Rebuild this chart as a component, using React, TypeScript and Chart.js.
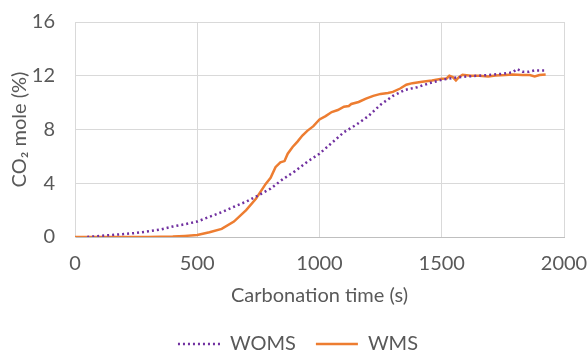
import React, { useEffect, useRef } from "react";
import { Chart, registerables } from "chart.js";

Chart.register(...registerables);

const seriesNames = ["WOMS", "WMS"];
const xTicks = [0, 500, 1000, 1500, 2000];
const yTicks = [0, 4, 8, 12, 16];
const xTitle = "Carbonation time (s)";
const yTitle = "CO\u2082 mole (%)";

const womsTime = [50, 100, 150, 200, 250, 300, 350, 400, 450, 500, 550, 600, 650, 700, 750, 800, 850, 900, 950, 1000, 1050, 1100, 1150, 1200, 1250, 1300, 1350, 1400, 1450, 1500, 1550, 1600, 1650, 1700, 1750, 1790, 1808, 1830, 1857, 1880, 1900, 1925];
const womsCO2 = [0, 0.08, 0.15, 0.22, 0.3, 0.42, 0.56, 0.78, 0.95, 1.15, 1.5, 1.85, 2.25, 2.63, 3.1, 3.6, 4.3, 4.9, 5.6, 6.2, 7.0, 7.8, 8.35, 9.0, 9.85, 10.5, 10.95, 11.15, 11.45, 11.7, 11.85, 11.95, 12.0, 12.07, 12.15, 12.25, 12.5, 12.3, 12.3, 12.4, 12.4, 12.4];

const wmsTime = [0, 100, 200, 300, 400, 450, 500, 550, 600, 650, 700, 740, 780, 800, 820, 840, 857, 870, 890, 910, 930, 950, 975, 1000, 1025, 1050, 1075, 1100, 1120, 1130, 1160, 1190, 1220, 1250, 1280, 1300, 1330, 1355, 1380, 1420, 1460, 1500, 1520, 1531, 1545, 1558, 1570, 1585, 1620, 1653, 1690, 1720, 1760, 1790, 1830, 1860, 1880, 1900, 1925];
const wmsCO2 = [0, 0, 0, 0, 0.03, 0.08, 0.15, 0.35, 0.6, 1.15, 2.0, 2.85, 3.95, 4.4, 5.2, 5.55, 5.65, 6.2, 6.7, 7.1, 7.55, 7.9, 8.25, 8.75, 9.0, 9.3, 9.45, 9.7, 9.75, 9.9, 10.05, 10.3, 10.5, 10.65, 10.72, 10.8, 11.05, 11.33, 11.45, 11.55, 11.65, 11.78, 11.8, 12.0, 11.9, 11.65, 11.9, 12.07, 12.0, 12.0, 11.95, 12.02, 12.05, 12.1, 12.05, 12.05, 11.95, 12.05, 12.1];

const FONT = "Lato, 'Open Sans', 'DejaVu Sans', sans-serif";
const TEXT = "#595959";
const COLORS = ["#7030A0", "#ED7D31"];
const DASHES = [[2, 3], []];

const legendShift = {
  id: "legendShift",
  afterLayout(chart: any) {
    const lg = chart.legend;
    if (lg) {
      lg.left += 16;
      lg.right += 16;
    }
  },
};

export default function App() {
  const ref = useRef<HTMLCanvasElement | null>(null);

  useEffect(() => {
    if (!ref.current) return;
    const toPts = (xs: number[], ys: number[]) => xs.map((x, i) => ({ x, y: ys[i] }));
    const chart = new Chart(ref.current, {
      type: "line",
      data: {
        datasets: [
          {
            label: seriesNames[0],
            data: toPts(womsTime, womsCO2),
            borderColor: COLORS[0],
            backgroundColor: COLORS[0],
            borderWidth: 2.5,
            borderDash: DASHES[0],
            pointRadius: 0,
            tension: 0,
          },
          {
            label: seriesNames[1],
            data: toPts(wmsTime, wmsCO2),
            borderColor: COLORS[1],
            backgroundColor: COLORS[1],
            borderWidth: 2.5,
            pointRadius: 0,
            tension: 0,
          },
        ],
      },
      plugins: [legendShift],
      options: {
        animation: false,
        responsive: false,
        devicePixelRatio: 1,
        layout: { padding: { top: 22, right: 24, bottom: 0, left: 0 } },
        plugins: {
          tooltip: { enabled: false },
          legend: {
            position: "bottom",
            maxHeight: 39,
            labels: {
              usePointStyle: true,
              pointStyle: "line",
              pointStyleWidth: 42,
              padding: 20,
              color: TEXT,
              font: { family: FONT, size: 20 },
              generateLabels: (c: any) =>
                c.data.datasets.map((ds: any, i: number) => ({
                  text: ds.label,
                  fillStyle: COLORS[i],
                  strokeStyle: COLORS[i],
                  fontColor: TEXT,
                  lineWidth: 2.5,
                  lineDash: DASHES[i],
                  lineCap: "butt",
                  pointStyle: "line",
                  hidden: false,
                  datasetIndex: i,
                })),
            },
          },
        },
        scales: {
          x: {
            type: "linear",
            min: xTicks[0],
            max: xTicks[xTicks.length - 1],
            afterBuildTicks: (s: any) => {
              s.ticks = xTicks.map((v) => ({ value: v }));
            },
            afterFit: (s: any) => {
              s.height = 77;
              s.paddingLeft = 0;
              s.paddingRight = 0;
            },
            grid: { color: "#d9d9d9", drawTicks: false },
            border: { color: "#bfbfbf" },
            ticks: {
              padding: 15,
              color: TEXT,
              font: { family: FONT, size: 20 },
              maxRotation: 0,
              callback: (v: any) => String(v),
            },
            title: {
              display: true,
              text: xTitle,
              color: TEXT,
              font: { family: FONT, size: 20 },
              padding: { top: 0, bottom: 6 },
            },
          },
          y: {
            type: "linear",
            min: yTicks[0],
            max: yTicks[yTicks.length - 1],
            afterBuildTicks: (s: any) => {
              s.ticks = yTicks.map((v) => ({ value: v }));
            },
            afterFit: (s: any) => {
              s.width = 75;
              s.paddingTop = 0;
              s.paddingBottom = 0;
            },
            grid: { color: "#d9d9d9", drawTicks: false },
            border: { color: "#d9d9d9" },
            ticks: {
              padding: 20,
              color: TEXT,
              font: { family: FONT, size: 20 },
              callback: (v: any) => String(v),
            },
            title: {
              display: true,
              text: yTitle,
              color: TEXT,
              font: { family: FONT, size: 20 },
              padding: { top: 8, bottom: 0 },
            },
          },
        },
      },
    } as any);
    return () => chart.destroy();
  }, []);

  return (
    <div style={{ position: "fixed", left: 0, top: 0, width: 588, height: 353, background: "#fff" }}>
      <canvas ref={ref} width={588} height={353} />
    </div>
  );
}
